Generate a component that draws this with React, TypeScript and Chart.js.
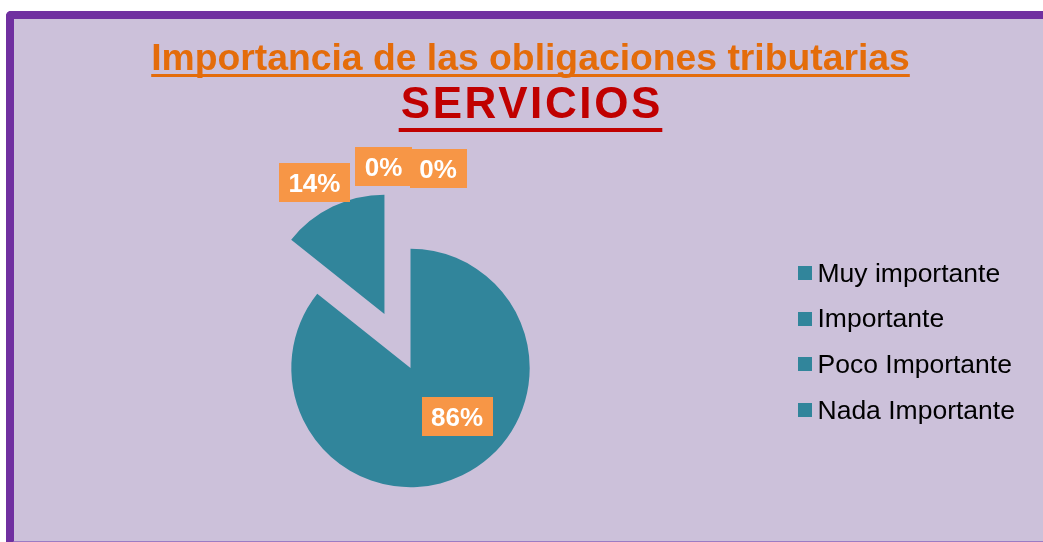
import { useEffect, useRef } from "react";
import { Chart, registerables } from "chart.js";

Chart.register(...registerables);

// ---- data ----
const categories = ["Muy importante", "Importante", "Poco Importante", "Nada Importante"];
const percentages = [85.7, 14.3, 0, 0];
const chartTitle = "Importancia de las obligaciones tributarias";
const chartSubtitle = "SERVICIOS";

// ---- styles ----
const FONT = '"Liberation Sans", Arial, Helvetica, sans-serif';
const TEAL = "#31859B";
const LABEL_BOX = "#F79646";
const TITLE_ORANGE = "#E46C0A";
const SUB_RED = "#C00000";
const explodeOffsets = [0, 60, 0, 0];
const labelPlacement = [
  { r: 0.5625, da: -18.2 },
  { r: 1.25, da: -2.3 },
  { r: 1.706, da: -7.6 },
  { r: 1.69, da: 7.85 },
];

const explodePlugin = {
  id: "explode",
  beforeDatasetDraw(chart: any, args: any) {
    const ctx = chart.ctx;
    args.meta.data.forEach((arc: any, i: number) => {
      const d = explodeOffsets[i] || 0;
      const mid = (arc.startAngle + arc.endAngle) / 2;
      ctx.save();
      ctx.translate(Math.cos(mid) * d, Math.sin(mid) * d);
      arc.draw(ctx, chart.chartArea);
      ctx.restore();
    });
    return false;
  },
};

const labelsPlugin = {
  id: "pctLabels",
  afterDatasetsDraw(chart: any) {
    const ctx = chart.ctx;
    const meta = chart.getDatasetMeta(0);
    const values = chart.data.datasets[0].data as number[];
    const total = values.reduce((a, b) => a + b, 0);
    ctx.save();
    ctx.font = `bold 26px ${FONT}`;
    meta.data.forEach((el: any, i: number) => {
      const mid = (el.startAngle + el.endAngle) / 2;
      const ex = explodeOffsets[i] || 0;
      const vx = el.x + Math.cos(mid) * ex;
      const vy = el.y + Math.sin(mid) * ex;
      const p = labelPlacement[i];
      const a = mid + (p.da * Math.PI) / 180;
      const cx = vx + Math.cos(a) * el.outerRadius * p.r;
      const cy = vy + Math.sin(a) * el.outerRadius * p.r;
      const text = Math.round((values[i] / total) * 100) + "%";
      const w = ctx.measureText(text).width + 19;
      const h = 39;
      ctx.fillStyle = LABEL_BOX;
      ctx.fillRect(Math.round(cx - w / 2), Math.round(cy - h / 2), Math.round(w), h);
      ctx.fillStyle = "#FFFFFF";
      ctx.textAlign = "center";
      ctx.textBaseline = "alphabetic";
      ctx.fillText(text, cx, cy + 10);
    });
    ctx.restore();
  },
};

const textPlugin = {
  id: "titlesLegend",
  afterDraw(chart: any) {
    const ctx = chart.ctx;
    const cx = chart.width / 2;
    ctx.save();
    ctx.textBaseline = "alphabetic";
    ctx.textAlign = "left";
    // main title
    ctx.font = `bold 37.3px ${FONT}`;
    const w1 = ctx.measureText(chartTitle).width;
    ctx.fillStyle = TITLE_ORANGE;
    ctx.fillText(chartTitle, cx - w1 / 2, 50.5);
    ctx.fillRect(cx - w1 / 2, 55, w1, 3);
    // subtitle
    ctx.font = `bold 44px ${FONT}`;
    const ls = 2.6;
    (ctx as any).letterSpacing = ls + "px";
    const w2 = ctx.measureText(chartSubtitle).width - ls;
    ctx.fillStyle = SUB_RED;
    ctx.fillText(chartSubtitle, cx - w2 / 2, 98.5);
    (ctx as any).letterSpacing = "0px";
    ctx.fillRect(cx - w2 / 2 - 2, 109, w2 + 4, 4);
    // legend
    const colors = chart.data.datasets[0].backgroundColor as string[];
    ctx.font = `26.5px ${FONT}`;
    chart.data.labels.forEach((lab: string, i: number) => {
      const top = 247 + i * 45.7;
      ctx.fillStyle = colors[i];
      ctx.fillRect(784, Math.round(top), 14, 14);
      ctx.fillStyle = "#000000";
      ctx.fillText(lab, 803.5, top + 15.5);
    });
    ctx.restore();
  },
};

export default function App() {
  const ref = useRef<HTMLCanvasElement | null>(null);
  useEffect(() => {
    document.documentElement.style.overflow = "hidden";
    document.body.style.overflow = "hidden";
    if (!ref.current) return;
    const chart = new Chart(ref.current, {
      type: "pie",
      data: {
        labels: categories,
        datasets: [
          {
            data: percentages,
            backgroundColor: categories.map(() => TEAL),
            borderWidth: 0,
          },
        ],
      },
      options: {
        responsive: false,
        animation: false,
        events: [],
        radius: 119.2,
        layout: { padding: { left: 0, right: 240, top: 176, bottom: 0 } },
        plugins: {
          legend: { display: false },
          title: { display: false },
          tooltip: { enabled: false },
        },
      } as any,
      plugins: [explodePlugin, labelsPlugin, textPlugin],
    });
    return () => chart.destroy();
  }, []);
  return (
    <div
      style={{
        position: "fixed",
        left: 6,
        top: 11,
        width: 1049,
        height: 538,
        boxSizing: "border-box",
        border: "8px solid #7030A0",
        borderBottomColor: "#9C7CC4",
        borderRadius: 5,
        background: "#CCC1DA",
        overflow: "hidden",
      }}
    >
      <canvas ref={ref} width={1033} height={522} style={{ display: "block" }} />
    </div>
  );
}
